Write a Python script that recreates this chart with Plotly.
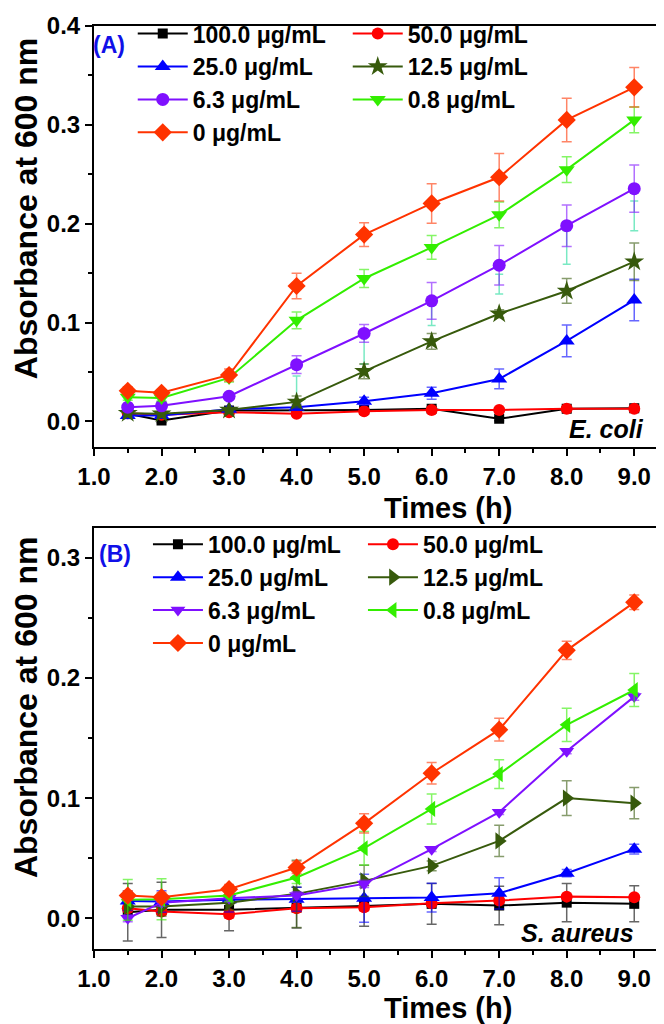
import plotly.graph_objects as go

# sampling times (h)
hours = [1.5, 2.0, 3.0, 4.0, 5.0, 6.0, 7.0, 8.0, 9.0]
conc_labels = ['100.0 μg/mL', '50.0 μg/mL', '25.0 μg/mL', '12.5 μg/mL',
               '6.3 μg/mL', '0.8 μg/mL', '0 μg/mL']
x_ticks = [1.0, 2.0, 3.0, 4.0, 5.0, 6.0, 7.0, 8.0, 9.0]

# (A) E. coli
a_100 = [0.0077, 0.0010, 0.0110, 0.0110, 0.0117, 0.0128, 0.0027, 0.0128, 0.0134]
a_100_err = [0.002, 0.002, 0.002, 0.002, 0.002, 0.002, 0.002, 0.002, 0.002]
a_50 = [0.0084, 0.0067, 0.0094, 0.0077, 0.0104, 0.0117, 0.0117, 0.0128, 0.0128]
a_50_err = [0.002, 0.002, 0.002, 0.002, 0.002, 0.002, 0.002, 0.002, 0.002]
a_25 = [0.0060, 0.0060, 0.0124, 0.0144, 0.0205, 0.0285, 0.0430, 0.0815, 0.1228]
a_25_err = [0.003, 0.002, 0.002, 0.003, 0.004, 0.006, 0.010, 0.016, 0.021]
a_12 = [0.0084, 0.0077, 0.0117, 0.0198, 0.0507, 0.0810, 0.1090, 0.1320, 0.1616]
a_12_err = [0.002, 0.002, 0.002, 0.006, 0.0075, 0.008, 0.004, 0.0125, 0.019]
a_6 = [0.0144, 0.0158, 0.0255, 0.0574, 0.0890, 0.1220, 0.1580, 0.1980, 0.2355]
a_6_err = [0.003, 0.003, 0.003, 0.009, 0.009, 0.0185, 0.020, 0.021, 0.024]
a_08 = [0.0245, 0.0238, 0.0440, 0.1023, 0.1446, 0.1760, 0.2090, 0.2547, 0.3050]
a_08_err = [0.003, 0.003, 0.004, 0.0085, 0.009, 0.012, 0.013, 0.013, 0.013]
a_0 = [0.0310, 0.0290, 0.0470, 0.1370, 0.1890, 0.2205, 0.2470, 0.3050, 0.3380]
a_0_err = [0.004, 0.003, 0.006, 0.013, 0.012, 0.020, 0.024, 0.022, 0.020]
# stray teal error bars visible in panel A
a_ghost_hours = [4.0, 5.0, 6.0, 7.0, 8.0, 9.0]
a_ghost = [0.030, 0.074, 0.111, 0.139, 0.176, 0.208]
a_ghost_err = [0.016, 0.016, 0.014, 0.010, 0.017, 0.015]

# (B) S. aureus
b_100 = [0.0050, 0.0070, 0.0070, 0.0089, 0.0103, 0.0120, 0.0106, 0.0130, 0.0120]
b_100_err = [0.024, 0.023, 0.0175, 0.017, 0.017, 0.017, 0.016, 0.016, 0.015]
b_50 = [0.0083, 0.0056, 0.0033, 0.0083, 0.0092, 0.0125, 0.0147, 0.0180, 0.0175]
b_50_err = [0.003, 0.003, 0.003, 0.003, 0.003, 0.002, 0.002, 0.002, 0.002]
b_25 = [0.0144, 0.0139, 0.0153, 0.0158, 0.0167, 0.0172, 0.0208, 0.0375, 0.0575]
b_25_err = [0.008, 0.009, 0.010, 0.010, 0.020, 0.012, 0.013, 0.003, 0.004]
b_12 = [0.0097, 0.0097, 0.0130, 0.0203, 0.0311, 0.0436, 0.0644, 0.1000, 0.0958]
b_12_err = [0.008, 0.008, 0.006, 0.028, 0.013, 0.004, 0.013, 0.0145, 0.013]
b_6 = [0.0000, 0.0130, 0.0167, 0.0190, 0.0286, 0.0575, 0.0883, 0.1390, 0.1845]
b_6_err = [0.003, 0.003, 0.003, 0.003, 0.003, 0.002, 0.002, 0.002, 0.003]
b_08 = [0.0153, 0.0158, 0.0189, 0.0339, 0.0583, 0.0910, 0.1200, 0.1610, 0.1900]
b_08_err = [0.017, 0.017, 0.005, 0.005, 0.014, 0.0125, 0.012, 0.0138, 0.0138]
b_0 = [0.0189, 0.0175, 0.0242, 0.0422, 0.0790, 0.1207, 0.1570, 0.2230, 0.2630]
b_0_err = [0.004, 0.004, 0.004, 0.005, 0.008, 0.009, 0.0095, 0.0075, 0.006]

COLORS = ['#000000', '#FF0000', '#0000FF', '#375A0C', '#7F10FF', '#33EE00', '#FF3300']
ERR_COLORS = ['rgba(0,0,0,0.6)', 'rgba(255,0,0,0.6)', 'rgba(0,0,255,0.6)',
              'rgba(55,90,12,0.6)', 'rgba(127,16,255,0.6)', 'rgba(51,238,0,0.6)',
              'rgba(255,51,0,0.6)']
SYMBOLS_A = ['square', 'circle', 'triangle-up', 'star', 'circle', 'triangle-down', 'diamond']
SYMBOLS_B = ['square', 'circle', 'triangle-up', 'triangle-right', 'triangle-down',
             'triangle-left', 'diamond']
SIZES = [10, 12, 14, 15, 13, 14, 14]

FONT = 'Liberation Sans, Arial, sans-serif'

fig = go.Figure()

panels = [
    ('x', 'y', 'legend', SYMBOLS_A,
     [(a_100, a_100_err), (a_50, a_50_err), (a_25, a_25_err), (a_12, a_12_err),
      (a_6, a_6_err), (a_08, a_08_err), (a_0, a_0_err)]),
    ('x2', 'y2', 'legend2', SYMBOLS_B,
     [(b_100, b_100_err), (b_50, b_50_err), (b_25, b_25_err), (b_12, b_12_err),
      (b_6, b_6_err), (b_08, b_08_err), (b_0, b_0_err)]),
]

for xa, ya, leg, symbols, series in panels:
    if xa == 'x':
        fig.add_trace(go.Scatter(
            x=a_ghost_hours, y=a_ghost, mode='markers', xaxis=xa, yaxis=ya,
            marker=dict(size=1, color='rgba(0,0,0,0)'),
            error_y=dict(type='data', array=a_ghost_err, color='rgba(64,224,170,0.7)',
                         thickness=1.5, width=4),
            showlegend=False, hoverinfo='skip',
        ))
    for i, (vals, errs) in enumerate(series):
        fig.add_trace(go.Scatter(
            x=hours, y=vals, name=conc_labels[i], mode='lines+markers',
            xaxis=xa, yaxis=ya, legend=leg,
            line=dict(color=COLORS[i], width=2),
            marker=dict(symbol=symbols[i], size=SIZES[i], color=COLORS[i]),
            error_y=dict(type='data', array=errs, color=ERR_COLORS[i],
                         thickness=1.5, width=5),
        ))

axis_common = dict(
    showline=True, linecolor='black', linewidth=2, mirror=True,
    ticks='outside', ticklen=7, tickwidth=2, tickcolor='black',
    showgrid=False, zeroline=False, automargin=False,
    tickfont=dict(family=FONT, size=24, color='black', weight='bold'),
    tickformat='.1f',
)

xaxis_cfg = dict(axis_common, range=[1.0, 9.5], tickvals=x_ticks,
                 minor=dict(dtick=0.5, tick0=1.0, ticks='outside', ticklen=4,
                            tickwidth=2, tickcolor='black'))

legend_common = dict(orientation='h', xanchor='left', yanchor='top',
                     entrywidth=150, bgcolor='rgba(0,0,0,0)', itemwidth=50,
                     font=dict(family=FONT, size=23, color='black', weight='bold'))

fig.update_layout(
    width=664, height=1024,
    margin=dict(l=86, r=4, t=14, b=83),
    plot_bgcolor='white', paper_bgcolor='white',
    font=dict(family=FONT, color='black'),
    xaxis=dict(xaxis_cfg, anchor='y'),
    xaxis2=dict(xaxis_cfg, anchor='y2'),
    yaxis=dict(axis_common, domain=[0.5437, 1.0], range=[-0.026, 0.4], dtick=0.1,
               minor=dict(dtick=0.05, ticks='outside', ticklen=4, tickwidth=2,
                          tickcolor='black')),
    yaxis2=dict(axis_common, domain=[0.0, 0.4563], range=[-0.0256, 0.325], dtick=0.1,
                minor=dict(dtick=0.05, ticks='outside', ticklen=4, tickwidth=2,
                           tickcolor='black')),
    legend=dict(legend_common, x=0.0675, y=1.015),
    legend2=dict(legend_common, x=0.094, y=0.4617),
    showlegend=True,
)

# axis titles sit off-centre in the original, so place them as annotations (pixels)
for y_px in (498, 1000):
    fig.add_annotation(text='Times (h)', xref='paper', yref='paper',
                       x=(440 - 86) / 574, y=(941 - y_px) / 927,
                       xanchor='center', yanchor='middle', showarrow=False,
                       font=dict(family=FONT, size=29, color='black', weight='bold'))
for y_px in (198, 699):
    fig.add_annotation(text='Absorbance at 600 nm', xref='paper', yref='paper',
                       x=(18 - 86) / 574, y=(941 - y_px) / 927, textangle=-90,
                       xanchor='center', yanchor='middle', showarrow=False,
                       font=dict(family=FONT, size=32, color='black', weight='bold'))

fig.add_annotation(text='(A)', xref='paper', yref='paper', x=-0.005, y=0.9795,
                   xanchor='left', yanchor='middle', showarrow=False,
                   font=dict(family=FONT, size=23, color='#1010E8', weight='bold'))
fig.add_annotation(text='(B)', xref='paper', yref='paper', x=0.005, y=0.428,
                   xanchor='left', yanchor='middle', showarrow=False,
                   font=dict(family=FONT, size=23, color='#1010E8', weight='bold'))
fig.add_annotation(text='E. coli', xref='paper', yref='paper', x=0.962, y=0.5631,
                   xanchor='right', yanchor='middle', showarrow=False,
                   font=dict(family=FONT, size=25, color='black', weight='bold',
                             style='italic'))
fig.add_annotation(text='S. aureus', xref='paper', yref='paper', x=0.944, y=0.0178,
                   xanchor='right', yanchor='middle', showarrow=False,
                   font=dict(family=FONT, size=25, color='black', weight='bold',
                             style='italic'))

fig.write_html('out.html')
